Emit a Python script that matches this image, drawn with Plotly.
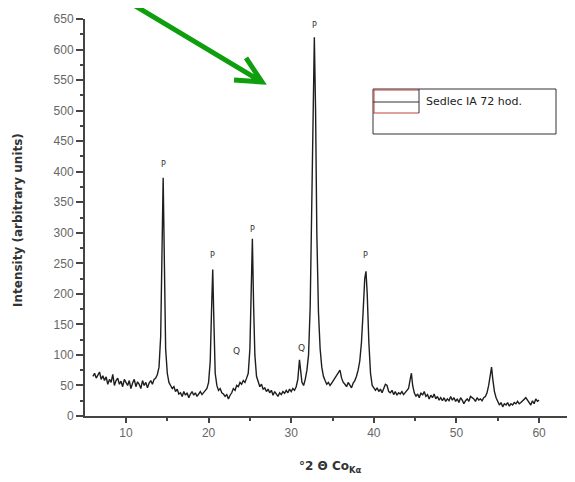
import plotly.graph_objects as go

# ---- data ----
two_theta = [6.0, 6.2, 6.4, 6.6, 6.8, 7.0, 7.2, 7.4, 7.6, 7.8, 8.0, 8.2, 8.4, 8.6, 8.8, 9.0, 9.2, 9.4, 9.6, 9.8,
             10.0, 10.2, 10.4, 10.6, 10.8, 11.0, 11.2, 11.4, 11.6, 11.8, 12.0, 12.2, 12.4, 12.6, 12.8, 13.0, 13.2, 13.4, 13.6, 13.8,
             14.0, 14.2, 14.35, 14.5, 14.65, 14.8, 15.0, 15.2, 15.4, 15.6, 15.8, 16.0, 16.2, 16.4, 16.6, 16.8, 17.0, 17.2, 17.4, 17.6,
             17.8, 18.0, 18.2, 18.4, 18.6, 18.8, 19.0, 19.2, 19.4, 19.6, 19.8, 20.0, 20.2, 20.35, 20.5, 20.65, 20.8, 21.0, 21.2, 21.4,
             21.6, 21.8, 22.0, 22.2, 22.4, 22.6, 22.8, 23.0, 23.2, 23.4, 23.6, 23.8, 24.0, 24.2, 24.4, 24.6, 24.8, 25.0, 25.15, 25.3,
             25.45, 25.6, 25.8, 26.0, 26.2, 26.4, 26.6, 26.8, 27.0, 27.2, 27.4, 27.6, 27.8, 28.0, 28.2, 28.4, 28.6, 28.8, 29.0, 29.2,
             29.4, 29.6, 29.8, 30.0, 30.2, 30.4, 30.6, 30.8, 31.0, 31.15, 31.3, 31.5, 31.7, 31.9, 32.1, 32.3, 32.5, 32.65, 32.8, 32.95,
             33.1, 33.3, 33.5, 33.7, 33.9, 34.1, 34.3, 34.5, 34.7, 34.9, 35.1, 35.3, 35.5, 35.7, 35.9, 36.1, 36.3, 36.5, 36.7, 36.9,
             37.1, 37.3, 37.5, 37.7, 37.9, 38.1, 38.3, 38.5, 38.7, 38.9, 39.05, 39.2, 39.4, 39.6, 39.8, 40.0, 40.2, 40.4, 40.6, 40.8,
             41.0, 41.2, 41.4, 41.6, 41.8, 42.0, 42.2, 42.4, 42.6, 42.8, 43.0, 43.2, 43.4, 43.6, 43.8, 44.0, 44.2, 44.4, 44.55, 44.7,
             44.9, 45.1, 45.3, 45.5, 45.7, 45.9, 46.1, 46.3, 46.5, 46.7, 46.9, 47.1, 47.3, 47.5, 47.7, 47.9, 48.1, 48.3, 48.5, 48.7,
             48.9, 49.1, 49.3, 49.5, 49.7, 49.9, 50.1, 50.3, 50.5, 50.7, 50.9, 51.1, 51.3, 51.5, 51.7, 51.9, 52.1, 52.3, 52.5, 52.7,
             52.9, 53.1, 53.3, 53.5, 53.7, 53.9, 54.1, 54.25, 54.4, 54.6, 54.8, 55.0, 55.2, 55.4, 55.6, 55.8, 56.0, 56.2, 56.4, 56.6,
             56.8, 57.0, 57.2, 57.4, 57.6, 57.8, 58.0, 58.2, 58.4, 58.6, 58.8, 59.0, 59.2, 59.4, 59.6, 59.8, 60.0]
intensity = [65, 70, 62, 68, 72, 60, 66, 58, 64, 52, 60, 55, 68, 50, 58, 62, 52, 57, 48, 60,
             55, 50, 58, 45, 54, 60, 48, 56, 52, 45, 58, 50, 55, 46, 54, 58, 52, 60, 62, 68,
             80, 130, 260, 390, 250, 110, 70, 55, 50, 45, 48, 40, 44, 36, 38, 32, 40, 34, 38, 30,
             36, 40, 34, 38, 32, 36, 40, 35, 38, 42, 45, 55, 90, 170, 240, 150, 70, 50, 42, 45,
             38, 36, 32, 35, 28, 34, 38, 45, 42, 50, 48, 55, 52, 58, 55, 62, 70, 110, 200, 290,
             180, 100, 65, 55, 48, 52, 44, 46, 40, 44, 38, 42, 34, 40, 36, 32, 38, 35, 40, 37,
             42, 38, 44, 40, 45, 42, 48, 60, 92, 70, 55, 50, 60, 75, 100, 180, 350, 520, 620, 500,
             300, 170, 110, 80, 65, 58, 52, 55, 50, 54, 58, 62, 66, 70, 75, 62, 55, 52, 48, 55,
             50, 46, 54, 58, 65, 75, 90, 120, 170, 225, 237, 200, 120, 70, 50, 45, 42, 46, 40, 44,
             38, 45, 52, 50, 40, 38, 42, 35, 40, 34, 38, 36, 40, 35, 38, 42, 45, 60, 70, 50,
             38, 32, 36, 30, 38, 34, 40, 32, 35, 28, 34, 30, 36, 28, 32, 26, 30, 25, 30, 24,
             28, 25, 32, 26, 30, 24, 28, 22, 30, 26, 20, 25, 28, 24, 32, 30, 28, 24, 30, 26,
             28, 25, 30, 32, 38, 50, 70, 80, 60, 40, 30, 25, 18, 22, 15, 20, 18, 22, 16, 20,
             18, 22, 20, 24, 20, 22, 25, 28, 30, 26, 22, 18, 25, 20, 28, 24, 26]

peak_x = [14.5, 20.5, 25.3, 32.8, 38.95, 23.4, 31.2]
peak_y = [412, 262, 306, 640, 262, 106, 111]
peak_text = ["P", "P", "P", "P", "P", "Q", "Q"]

x_ticks = [10, 20, 30, 40, 50, 60]
y_ticks = [0, 50, 100, 150, 200, 250, 300, 350, 400, 450, 500, 550, 600, 650]

series_name = "Sedlec IA 72 hod."

# ---- layout geometry (the page body adds an 8px offset) ----
OFF = 8
W, H = 575 - OFF, 482 - OFF
ML, MR, MT, MB = 85 - OFF, 0, 19 - OFF, 66
PLOT_L, PLOT_R, PLOT_T, PLOT_B = 85, 575, 19, 416   # screen pixels


def px(x):
    return (x - PLOT_L) / (PLOT_R - PLOT_L)


def py(y):
    return (PLOT_B - y) / (PLOT_B - PLOT_T)


fig = go.Figure()
fig.add_trace(go.Scatter(x=two_theta, y=intensity, mode="lines",
                         line=dict(color="#1e1e1e", width=1.4),
                         name=series_name, showlegend=False))

tick_font = dict(family="Liberation Sans, Arial, sans-serif", size=12, color="#666666")
title_font = dict(family="Comic Sans MS, DejaVu Sans, sans-serif", size=12, color="#333333")

fig.update_layout(
    width=W, height=H,
    margin=dict(l=ML, r=MR, t=MT, b=MB, pad=0),
    paper_bgcolor="white", plot_bgcolor="white",
    xaxis=dict(range=[5.04, 64.35], tickvals=x_ticks, ticks="outside", ticklen=5, tickwidth=1.5,
               tickcolor="#444444", showline=True, linecolor="#444444", linewidth=2,
               showgrid=False, zeroline=False, tickfont=tick_font,
               minor=dict(dtick=5, tick0=0, ticks="outside", ticklen=3, tickcolor="#444444")),
    yaxis=dict(range=[0, 650], tickvals=y_ticks, ticks="outside", ticklen=7, tickwidth=1.5,
               tickcolor="#444444", showline=True, linecolor="#444444", linewidth=2,
               showgrid=False, zeroline=False, tickfont=tick_font,
               minor=dict(dtick=25, tick0=0, ticks="outside", ticklen=3, tickcolor="#444444")),
)

annotations = []
for xv, yv, t in zip(peak_x, peak_y, peak_text):
    annotations.append(dict(x=xv, y=yv, xref="x", yref="y", text=t, showarrow=False,
                            xanchor="center", yanchor="middle",
                            font=dict(family="DejaVu Sans", size=8 if t == "P" else 9, color="#333333")))

annotations.append(dict(x=px(330), y=py(467), xref="paper", yref="paper",
                        xanchor="center", yanchor="middle",
                        text="<b>°2 Θ Co<sub>Kα</sub></b>", showarrow=False, font=title_font))
annotations.append(dict(x=px(18), y=py(220), xref="paper", yref="paper",
                        xanchor="center", yanchor="middle",
                        text="<b>Intensity (arbitrary units)</b>", textangle=-90, showarrow=False,
                        font=title_font))
annotations.append(dict(x=px(424), y=py(101), xref="paper", yref="paper", xanchor="left",
                        yanchor="middle", text=series_name, showarrow=False,
                        font=dict(family="Comic Sans MS, DejaVu Sans, sans-serif", size=11, color="#222222")))
fig.update_layout(annotations=annotations)

shapes = []
# legend box
shapes.append(dict(type="rect", xref="paper", yref="paper", x0=px(373), x1=px(556), y0=py(134), y1=py(89),
                   line=dict(color="#333333", width=1)))
shapes.append(dict(type="line", xref="paper", yref="paper", x0=px(373), x1=px(419), y0=py(90), y1=py(90),
                   line=dict(color="#c04040", width=1)))
shapes.append(dict(type="line", xref="paper", yref="paper", x0=px(373), x1=px(419), y0=py(113), y1=py(113),
                   line=dict(color="#c04040", width=1)))
shapes.append(dict(type="line", xref="paper", yref="paper", x0=px(374), x1=px(374), y0=py(90), y1=py(113),
                   line=dict(color="#c04040", width=1)))
shapes.append(dict(type="line", xref="paper", yref="paper", x0=px(373), x1=px(419), y0=py(102), y1=py(102),
                   line=dict(color="#333333", width=1.2)))
shapes.append(dict(type="line", xref="paper", yref="paper", x0=px(419), x1=px(419), y0=py(89), y1=py(113),
                   line=dict(color="#333333", width=1)))
# green arrow
path = "M {:.4f},{:.4f} L {:.4f},{:.4f} M {:.4f},{:.4f} L {:.4f},{:.4f} L {:.4f},{:.4f}".format(
    px(122), py(-2), px(262), py(82),
    px(246), py(58), px(262), py(82), px(234), py(80))
shapes.append(dict(type="path", xref="paper", yref="paper", path=path,
                   line=dict(color="#0e9e0e", width=5)))
fig.update_layout(shapes=shapes)

fig.write_html("out.html")
